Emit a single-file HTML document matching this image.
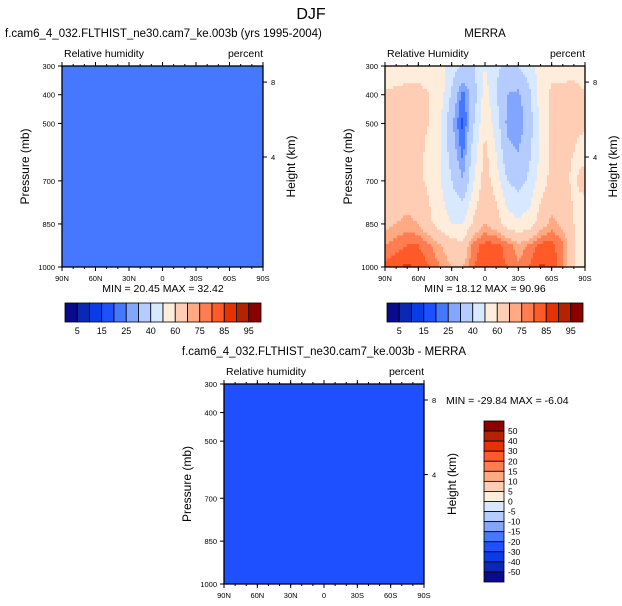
<!DOCTYPE html>
<html><head><meta charset="utf-8"><style>
html,body{margin:0;padding:0;background:#fff}
svg{display:block;font-family:"Liberation Sans",sans-serif}
</style></head><body>
<svg id="fig" width="622" height="606" viewBox="0 0 622 606" xmlns="http://www.w3.org/2000/svg">
<text x="311" y="19" font-size="16" text-anchor="middle">DJF</text>
<g id="p1"></g>
<g id="p2"></g>
<g id="p3"></g>
</svg>
<script>
// ---- data ----
const latLabels = ["90N","60N","30N","0","30S","60S","90S"];
const pLevelsTicks = [300,400,500,700,850,1000];
const heightTicks = [8,4];
const heightTickP = [356,617];
const rhLevels = [5,10,15,20,25,30,40,50,60,70,75,80,85,90,95];
const rhLabels = ["5","15","25","40","60","75","85","95"];
const diffLabels = ["50","40","30","20","15","10","5","0","-5","-10","-15","-20","-30","-40","-50"];
const colors = ["#0a0a8c","#0a28b4","#0a3ce6","#1e50ff","#4678ff","#82a5ff","#b4ccff","#d7e8ff","#ffeddc","#ffcdb4","#ffaa82","#ff7d50","#ff5a28","#e63200","#b42200","#8c0000"];
const merraLats = [90,80,70,60,50,40,30,20,10,0,-10,-20,-30,-40,-50,-60,-70,-80,-90];
const merraP = [300,400,500,600,700,850,925,1000];
const merraRH = [
[50,55,57,57,57,55,45,38,40,50,42,38,40,45,55,57,57,55,50],
[62,62,62,62,60,55,38,22,35,55,40,30,28,38,55,62,62,65,62],
[62,62,62,62,60,50,32,18,40,58,45,28,25,35,52,62,62,62,62],
[62,62,62,62,58,50,35,23,45,63,50,32,30,38,52,62,62,60,55],
[63,63,63,62,58,50,40,30,50,65,55,40,36,42,55,63,63,58,65],
[68,70,72,70,62,55,50,50,62,70,65,55,52,55,65,72,68,60,50],
[75,78,80,80,76,70,65,62,78,82,82,78,72,76,82,82,76,62,50],
[82,84,86,84,80,75,70,70,80,83,82,80,76,80,86,84,76,60,50]];
const modelRH = 24;
const diffRH = -25;
const diffLevels = [-50,-40,-30,-20,-15,-10,-5,0,5,10,15,20,30,40,50];

const NS="http://www.w3.org/2000/svg";
function el(parent,tag,attrs,txt){const e=document.createElementNS(NS,tag);for(const k in attrs)e.setAttribute(k,attrs[k]);if(txt!==undefined)e.textContent=txt;parent.appendChild(e);return e;}
function colorFor(v,levels){let i=0;while(i<levels.length&&v>=levels[i])i++;return colors[i];}

function drawPanel(g,x0,y0,w,h,fillFn,levels,title,titleX,titleAnchor,sub){
  const ys=p=>y0+(p-300)/700*h;
  if(typeof fillFn==="number"){
    const r=el(g,"rect",{x:x0,y:y0,width:w,height:h,fill:colorFor(fillFn,levels)});
    
    
  } else {
    const nx=100,ny=70;
    for(let j=0;j<ny;j++)for(let i=0;i<nx;i++){
      const lat=90-(i+0.5)/nx*180,p=300+(j+0.5)/ny*700;
      const c=el(g,"rect",{x:(x0+i*w/nx).toFixed(2),y:(y0+j*h/ny).toFixed(2),width:(w/nx+0.4).toFixed(2),height:(h/ny+0.4).toFixed(2),fill:colorFor(fillFn(lat,p),levels)});
      
      
    }
  }
  el(g,"rect",{x:x0,y:y0,width:w,height:h,fill:"none",stroke:"#000","stroke-width":1.3});
  const t=el(g,"text",{x:titleX,y:y0-29,"font-size":11.5,"text-anchor":titleAnchor},title);
  
  const s=el(g,"text",{x:x0+2,y:y0-9,"font-size":10.5},sub);
  
  const u=el(g,"text",{x:x0+w,y:y0-9,"font-size":10.5,"text-anchor":"end"},"percent");
  
  latLabels.forEach((lb,i)=>{const x=x0+i*w/6;
    el(g,"line",{x1:x,y1:y0+h,x2:x,y2:y0+h+4,stroke:"#000"});
    el(g,"line",{x1:x,y1:y0,x2:x,y2:y0-4,stroke:"#000"});
    const tl=el(g,"text",{x:x,y:y0+h+14,"font-size":7.5,"text-anchor":"middle"},lb);
    });
  for(let k=0;k<=18;k++){const x=x0+k*w/18;
    el(g,"line",{x1:x,y1:y0+h,x2:x,y2:y0+h+2,stroke:"#000"});
    el(g,"line",{x1:x,y1:y0,x2:x,y2:y0-2,stroke:"#000"});}
  pLevelsTicks.forEach(p=>{const y=ys(p);
    el(g,"line",{x1:x0-4,y1:y,x2:x0,y2:y,stroke:"#000"});
    const tl=el(g,"text",{x:x0-7,y:y+3,"font-size":7.5,"text-anchor":"end"},p);
    });
  heightTicks.forEach((hk,i)=>{const y=ys(heightTickP[i]);
    el(g,"line",{x1:x0+w,y1:y,x2:x0+w+4,y2:y,stroke:"#000"});
    const tl=el(g,"text",{x:x0+w+8,y:y+3,"font-size":7.5},hk);
    });
  const yl=el(g,"text",{x:0,y:0,"font-size":12,"text-anchor":"middle",transform:`translate(${x0-33},${y0+h/2}) rotate(-90)`},"Pressure (mb)");
  
  const hl=el(g,"text",{x:0,y:0,"font-size":12,"text-anchor":"middle",transform:`translate(${x0+w+32},${y0+h/2}) rotate(-90)`},"Height (km)");
  
}

function hColorbar(g,x0,y0,w,h,labels){
  const bw=w/16;
  colors.forEach((c,i)=>{const r=el(g,"rect",{x:x0+i*bw,y:y0,width:bw,height:h,fill:c,stroke:"#000","stroke-width":0.8});
    });
  labels.forEach((lb,i)=>{const t=el(g,"text",{x:x0+(2*i+1)*bw,y:y0+h+12,"font-size":9,"text-anchor":"middle"},lb);
    });
}
function mm(g,x,y,txt,anchor){const t=el(g,"text",{x:x,y:y,"font-size":10.5,"text-anchor":anchor||"middle"},txt);
  }

function merraField(lat,p){
  let i=0;while(i<merraLats.length-2&&lat<merraLats[i+1])i++;
  let j=0;while(j<merraP.length-2&&p>merraP[j+1])j++;
  const fx=(merraLats[i]-lat)/(merraLats[i]-merraLats[i+1]);
  const fy=(p-merraP[j])/(merraP[j+1]-merraP[j]);
  const a=merraRH[j][i],b=merraRH[j][i+1],c=merraRH[j+1][i],d=merraRH[j+1][i+1];
  return a*(1-fx)*(1-fy)+b*fx*(1-fy)+c*(1-fx)*fy+d*fx*fy;
}

const g1=document.getElementById("p1"),g2=document.getElementById("p2"),g3=document.getElementById("p3");
drawPanel(g1,62,66,201,201,modelRH,rhLevels,"f.cam6_4_032.FLTHIST_ne30.cam7_ke.003b (yrs 1995-2004)",5,"start","Relative humidity");
mm(g1,163,292,"MIN =  20.45  MAX =  32.42");
hColorbar(g1,65,303,196,19,rhLabels);

drawPanel(g2,385,66,200,201,merraField,rhLevels,"MERRA",485,"middle","Relative Humidity");
mm(g2,485,292,"MIN =  18.12  MAX =  90.96");
hColorbar(g2,387,303,196,19,rhLabels);

drawPanel(g3,224,384,200,200,diffRH,diffLevels,"f.cam6_4_032.FLTHIST_ne30.cam7_ke.003b - MERRA",324,"middle","Relative humidity");
mm(g3,446,404,"MIN = -29.84  MAX =  -6.04","start");
(function(){const x0=484,y0=421,w=20,h=161,bh=h/16;
  colors.slice().reverse().forEach((c,i)=>{const r=el(g3,"rect",{x:x0,y:y0+i*bh,width:w,height:bh,fill:c,stroke:"#000","stroke-width":0.8});
    });
  diffLabels.forEach((lb,i)=>{const t=el(g3,"text",{x:x0+w+4,y:y0+(i+1)*bh+3,"font-size":8.5},lb);
    });
})();
</script>
</body></html>
